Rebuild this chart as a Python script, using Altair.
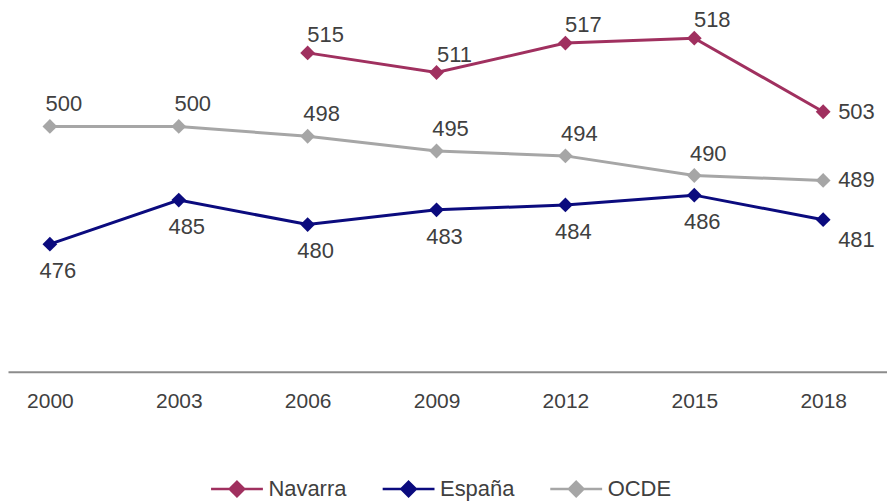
import altair as alt
import pandas as pd

years = [2000, 2003, 2006, 2009, 2012, 2015, 2018]
navarra = [None, None, 515, 511, 517, 518, 503]
espana = [476, 485, 480, 483, 484, 486, 481]
ocde = [500, 500, 498, 495, 494, 490, 489]
series_names = ["Navarra", "España", "OCDE"]
series_colors = ["#A0305F", "#0B0B7E", "#A6A6A6"]

rows = []
for name, vals in zip(series_names, [navarra, espana, ocde]):
    for y, v in zip(years, vals):
        if v is not None:
            rows.append({"serie": name, "year": y, "value": v})
df = pd.DataFrame(rows)

FONT = "Liberation Sans"
TXT = "#404040"

legend_symbol = "M-1,0H-0.28M0.28,0H1M0,-0.28L0.28,0L0,0.28L-0.28,0Z"

x = alt.X("year:Q",
          scale=alt.Scale(domain=[1999.025, 2019.486], nice=False, zero=False),
          axis=alt.Axis(values=years, format="d", title=None, grid=False, ticks=False,
                        domainColor="#8C8C8C", domainWidth=2, labelFont=FONT,
                        labelFontSize=21, labelColor=TXT, labelPadding=19))
y = alt.Y("value:Q", scale=alt.Scale(domain=[450, 522.0], nice=False, zero=False), axis=None)
color = alt.Color("serie:N",
                  scale=alt.Scale(domain=series_names, range=series_colors),
                  legend=alt.Legend(title=None, orient="none", direction="horizontal",
                                    legendX=202, legendY=444,
                                    symbolType=legend_symbol, symbolSize=2700,
                                    symbolStrokeWidth=2.5, symbolFillColor=None,
                                    labelFont=FONT, labelFontSize=22, labelColor=TXT,
                                    labelOffset=4, columnPadding=30))

base = alt.Chart(df)
lines = base.mark_line(strokeWidth=3).encode(x=x, y=y, color=color,
                                              detail="serie:N")
points = base.mark_point(shape="diamond", filled=True, size=220, opacity=1).encode(
    x=x, y=y, color=alt.Color("serie:N", scale=alt.Scale(domain=series_names, range=series_colors), legend=None))

def labels(name, dx, dy, align="center", last=False):
    cond = (alt.datum.year == 2018) if last else (alt.datum.year != 2018)
    return base.transform_filter(alt.datum.serie == name).transform_filter(cond).mark_text(
        font=FONT, fontSize=22, color=TXT, dx=dx, dy=dy, align=align
    ).encode(x=x, y=y, text="value:Q")

layers = [
    lines, points,
    labels("Navarra", 18, -18),
    labels("OCDE", 14, -22),
    labels("España", 8, 27),
    labels("Navarra", 15, 0, "left", True),
    labels("OCDE", 15, 0, "left", True),
    labels("España", 15, 20, "left", True),
]

chart = alt.layer(*layers).properties(
    width=881, height=354,
    autosize=alt.AutoSizeParams(type="none"),
    padding={"left": 0, "top": 10, "right": 0, "bottom": 130},
).configure_view(stroke=None)

chart.save("out.html", embed_options={"renderer": "svg", "actions": False})
